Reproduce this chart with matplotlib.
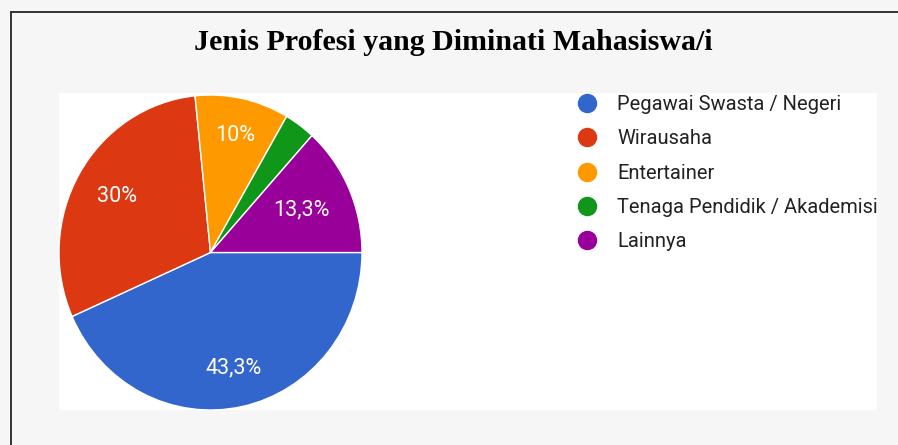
import matplotlib
matplotlib.use("Agg")
import numpy as np
import matplotlib.pyplot as plt
from matplotlib.lines import Line2D
from matplotlib.patches import Rectangle

# data
categories = ["Pegawai Swasta / Negeri", "Wirausaha", "Entertainer",
              "Tenaga Pendidik / Akademisi", "Lainnya"]
shares = [43.3, 30.0, 10.0, 3.3, 13.3]
pct_labels = ["43,3%", "30%", "10%", "", "13,3%"]
colors = ["#3366cc", "#dc3912", "#ff9900", "#109618", "#990099"]
title = "Jenis Profesi yang Diminati Mahasiswa/i"

W, H = 898, 445
fig = plt.figure(figsize=(W / 100, H / 100), dpi=100)
fig.patch.set_facecolor("#f6f6f6")

# white chart panel + outer frame lines
fig.add_artist(Rectangle((59 / W, 1 - 410 / H), (877 - 59) / W, (410 - 93) / H,
                         transform=fig.transFigure, facecolor="white",
                         edgecolor="none", zorder=0))
fig.add_artist(Line2D([11 / W, 1], [1 - 12 / H, 1 - 12 / H], color="#333333", lw=1.4))
fig.add_artist(Line2D([11 / W, 11 / W], [0, 1 - 12 / H], color="#333333", lw=1.4))

fig.text(453 / W, 1 - 42 / H, title, ha="center", va="center",
         fontsize=21.5, fontweight="bold", family="Liberation Serif", color="black")

# pie axes: centre (210.5, 252.5), slightly stretched vertically like the screenshot
cx, cy, rx, ry = 210.5, 252.5, 151.5, 157.5
ax = fig.add_axes([(cx - rx) / W, (H - cy - ry) / H, 2 * rx / W, 2 * ry / H])
wedges, _ = ax.pie(shares, colors=colors, startangle=0, counterclock=False,
                   wedgeprops=dict(edgecolor="white", linewidth=1))
ax.set_xlim(-1, 1)
ax.set_ylim(-1, 1)
ax.set_aspect("auto")
ax.axis("off")

# percentage labels, radial distance per wedge as google charts places them
label_r = [0.75, 0.71, 0.76, 0.7, 0.66]
for w, lab, rr in zip(wedges, pct_labels, label_r):
    mid = np.deg2rad((w.theta1 + w.theta2) / 2)
    if lab:
        ax.text(rr * np.cos(mid), rr * np.sin(mid), lab, ha="center", va="center",
                color="white", fontsize=15.5, family="Roboto")

handles = [Line2D([], [], marker="o", linestyle="none", markersize=13,
                  markerfacecolor=c, markeredgecolor=c) for c in colors]
fig.legend(handles, categories, loc="upper left", bbox_to_anchor=(577 / W, 1 - 95 / H),
           frameon=False, prop=dict(family="Roboto", size=14.5), labelcolor="#222222",
           handlelength=1.0, handletextpad=1.0, labelspacing=0.76,
           borderpad=0, borderaxespad=0)

fig.savefig("out.png", dpi=100, facecolor=fig.get_facecolor())
